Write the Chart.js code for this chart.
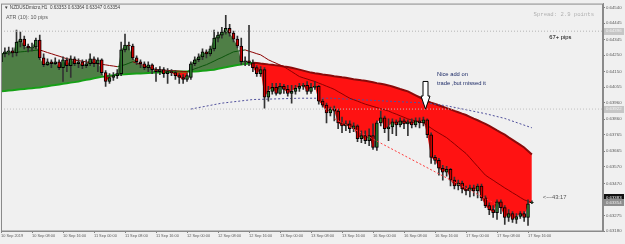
<!DOCTYPE html>
<html>
<head>
<meta charset="utf-8">
<script src="https://cdn.jsdelivr.net/npm/chart.js@4.4.1/dist/chart.umd.min.js"></script>
<style>
  html, body { margin: 0; padding: 0; background: #f0f0f0; }
</style>
</head>
<body>
<canvas id="chart" width="625" height="244"></canvas>
<script>
'use strict';
// Time axis: one label every 8 hourly bars
const tickLabels = ['10 Sep 2019', '10 Sep 08:00', '10 Sep 16:00', '11 Sep 00:00', '11 Sep 08:00', '11 Sep 16:00',
  '12 Sep 00:00', '12 Sep 08:00', '12 Sep 16:00', '13 Sep 00:00', '13 Sep 08:00', '13 Sep 16:00',
  '16 Sep 00:00', '16 Sep 08:00', '16 Sep 16:00', '17 Sep 00:00', '17 Sep 08:00', '17 Sep 16:00'];
const barsPerTick = 8;
const priceTicks = [0.64540, 0.64445, 0.64345, 0.64250, 0.64150, 0.64055, 0.63960, 0.63860,
  0.63765, 0.63665, 0.63570, 0.63470, 0.63375, 0.63275, 0.63180];

// NZDUSD H1 candles
const opens = [0.64210,0.64258,0.64270,0.64276,0.64264,0.64330,0.64348,0.64306,0.64294,0.64300,
  0.64342,0.64234,0.64192,0.64210,0.64198,0.64210,0.64174,0.64222,0.64186,0.64228,
  0.64198,0.64210,0.64186,0.64198,0.64228,0.64198,0.64222,0.64144,0.64090,0.64114,
  0.64126,0.64138,0.64282,0.64312,0.64306,0.64234,0.64210,0.64198,0.64174,0.64192,
  0.64162,0.64150,0.64162,0.64138,0.64150,0.64144,0.64126,0.64114,0.64102,0.64114,
  0.64198,0.64222,0.64240,0.64270,0.64258,0.64288,0.64354,0.64372,0.64390,0.64414,
  0.64384,0.64348,0.64306,0.64210,0.64216,0.64204,0.64174,0.64138,0.64162,0.63994,
  0.64030,0.64054,0.64018,0.64060,0.64042,0.64018,0.64030,0.64048,0.64060,0.64066,
  0.64030,0.64054,0.64060,0.63970,0.63946,0.63898,0.63922,0.63910,0.63838,0.63820,
  0.63832,0.63802,0.63820,0.63742,0.63760,0.63730,0.63760,0.63688,0.63838,0.63868,
  0.63802,0.63814,0.63844,0.63826,0.63850,0.63832,0.63844,0.63826,0.63850,0.63838,
  0.63856,0.63766,0.63628,0.63610,0.63562,0.63538,0.63556,0.63490,0.63454,0.63472,
  0.63436,0.63424,0.63442,0.63424,0.63454,0.63382,0.63334,0.63310,0.63292,0.63358,
  0.63322,0.63262,0.63286,0.63250,0.63268,0.63286,0.63262,0.63353];
const highs = [0.64282,0.64294,0.64300,0.64294,0.64402,0.64390,0.64366,0.64318,0.64324,0.64354,
  0.64372,0.64258,0.64228,0.64222,0.64234,0.64222,0.64240,0.64234,0.64246,0.64240,
  0.64228,0.64222,0.64222,0.64258,0.64240,0.64234,0.64228,0.64156,0.64138,0.64144,
  0.64162,0.64330,0.64378,0.64330,0.64318,0.64246,0.64222,0.64210,0.64210,0.64198,
  0.64174,0.64180,0.64174,0.64168,0.64162,0.64156,0.64138,0.64132,0.64138,0.64210,
  0.64240,0.64258,0.64288,0.64282,0.64306,0.64402,0.64390,0.64420,0.64492,0.64438,
  0.64396,0.64366,0.64354,0.64240,0.64432,0.64222,0.64186,0.64180,0.64174,0.64060,
  0.64078,0.64078,0.64078,0.64072,0.64066,0.64066,0.64066,0.64078,0.64078,0.64090,
  0.64078,0.64090,0.64066,0.63982,0.63958,0.63934,0.63940,0.63922,0.63874,0.63850,
  0.63850,0.63838,0.63826,0.63790,0.63790,0.63802,0.63832,0.63850,0.63910,0.63880,
  0.63862,0.63862,0.63856,0.63868,0.63862,0.63856,0.63862,0.63868,0.63868,0.63874,
  0.63862,0.63778,0.63640,0.63622,0.63580,0.63574,0.63562,0.63508,0.63490,0.63484,
  0.63454,0.63460,0.63460,0.63466,0.63466,0.63394,0.63352,0.63334,0.63370,0.63370,
  0.63334,0.63310,0.63298,0.63286,0.63298,0.63298,0.63370,0.63364];
const lows = [0.64180,0.64240,0.64252,0.64240,0.64246,0.64300,0.64288,0.64270,0.64276,0.64288,
  0.64222,0.64180,0.64186,0.64174,0.64192,0.64162,0.64090,0.64150,0.64114,0.64186,
  0.64174,0.64168,0.64174,0.64186,0.64180,0.64150,0.64132,0.64060,0.64078,0.64096,
  0.64108,0.64126,0.64270,0.64282,0.64222,0.64192,0.64174,0.64162,0.64150,0.64138,
  0.64090,0.64132,0.64114,0.64078,0.64126,0.64102,0.64078,0.64078,0.64090,0.64102,
  0.64186,0.64210,0.64222,0.64234,0.64246,0.64276,0.64330,0.64354,0.64378,0.64366,
  0.64330,0.64294,0.64192,0.64186,0.64186,0.64150,0.64120,0.64120,0.63928,0.63970,
  0.64012,0.64006,0.64012,0.64018,0.64000,0.63958,0.64012,0.64030,0.64042,0.64012,
  0.64018,0.64042,0.63952,0.63934,0.63838,0.63880,0.63850,0.63802,0.63778,0.63790,
  0.63778,0.63784,0.63724,0.63718,0.63712,0.63700,0.63676,0.63670,0.63820,0.63778,
  0.63730,0.63772,0.63760,0.63814,0.63802,0.63760,0.63808,0.63814,0.63808,0.63820,
  0.63748,0.63592,0.63586,0.63520,0.63490,0.63514,0.63454,0.63436,0.63430,0.63412,
  0.63400,0.63388,0.63394,0.63382,0.63364,0.63322,0.63280,0.63262,0.63250,0.63286,
  0.63220,0.63238,0.63232,0.63226,0.63256,0.63238,0.63214,0.63347];
const closes = [0.64258,0.64270,0.64276,0.64264,0.64330,0.64348,0.64306,0.64294,0.64300,0.64342,
  0.64234,0.64192,0.64210,0.64198,0.64210,0.64174,0.64222,0.64186,0.64228,0.64198,
  0.64210,0.64186,0.64198,0.64228,0.64198,0.64222,0.64144,0.64090,0.64114,0.64126,
  0.64138,0.64282,0.64312,0.64306,0.64234,0.64210,0.64198,0.64174,0.64192,0.64162,
  0.64150,0.64162,0.64138,0.64150,0.64144,0.64126,0.64114,0.64102,0.64126,0.64198,
  0.64222,0.64240,0.64270,0.64258,0.64288,0.64354,0.64372,0.64390,0.64414,0.64384,
  0.64348,0.64306,0.64210,0.64216,0.64204,0.64174,0.64138,0.64162,0.63994,0.64030,
  0.64054,0.64018,0.64060,0.64042,0.64018,0.64030,0.64048,0.64060,0.64066,0.64030,
  0.64054,0.64060,0.63970,0.63946,0.63898,0.63922,0.63910,0.63838,0.63820,0.63832,
  0.63802,0.63820,0.63742,0.63760,0.63730,0.63760,0.63688,0.63838,0.63868,0.63802,
  0.63814,0.63844,0.63826,0.63850,0.63832,0.63844,0.63826,0.63850,0.63838,0.63856,
  0.63766,0.63628,0.63610,0.63562,0.63538,0.63556,0.63490,0.63454,0.63472,0.63436,
  0.63424,0.63442,0.63424,0.63454,0.63382,0.63334,0.63310,0.63292,0.63358,0.63322,
  0.63262,0.63286,0.63250,0.63268,0.63286,0.63262,0.63346,0.63354];

// Slow MA (cloud edge) and medium MA
const slowMa = [0.64030,0.64032,0.64035,0.64037,0.64040,0.64042,0.64044,0.64047,0.64049,0.64052,
  0.64054,0.64058,0.64061,0.64065,0.64068,0.64072,0.64076,0.64079,0.64083,0.64086,
  0.64090,0.64095,0.64100,0.64104,0.64109,0.64114,0.64118,0.64121,0.64125,0.64128,
  0.64132,0.64133,0.64134,0.64136,0.64137,0.64138,0.64139,0.64140,0.64142,0.64143,
  0.64144,0.64145,0.64146,0.64148,0.64149,0.64150,0.64150,0.64150,0.64150,0.64150,
  0.64150,0.64152,0.64155,0.64157,0.64160,0.64162,0.64167,0.64172,0.64176,0.64181,
  0.64186,0.64190,0.64193,0.64197,0.64200,0.64204,0.64202,0.64199,0.64197,0.64194,
  0.64192,0.64188,0.64185,0.64181,0.64178,0.64174,0.64168,0.64162,0.64156,0.64150,
  0.64144,0.64140,0.64137,0.64133,0.64130,0.64126,0.64122,0.64119,0.64115,0.64112,
  0.64108,0.64104,0.64101,0.64097,0.64094,0.64090,0.64085,0.64080,0.64076,0.64071,
  0.64066,0.64059,0.64052,0.64044,0.64037,0.64030,0.64018,0.64006,0.63994,0.63982,
  0.63970,0.63961,0.63953,0.63945,0.63936,0.63928,0.63920,0.63911,0.63903,0.63894,
  0.63886,0.63875,0.63864,0.63854,0.63843,0.63832,0.63819,0.63806,0.63792,0.63779,
  0.63766,0.63750,0.63735,0.63719,0.63704,0.63688,0.63667,0.63646];
const fastMa = [0.64258,0.64260,0.64263,0.64265,0.64268,0.64270,0.64272,0.64275,0.64277,0.64280,
  0.64282,0.64274,0.64266,0.64259,0.64251,0.64244,0.64236,0.64228,0.64224,0.64220,
  0.64217,0.64213,0.64209,0.64205,0.64202,0.64198,0.64194,0.64191,0.64187,0.64184,
  0.64180,0.64186,0.64192,0.64201,0.64210,0.64202,0.64194,0.64186,0.64178,0.64170,
  0.64162,0.64161,0.64159,0.64157,0.64156,0.64155,0.64153,0.64151,0.64150,0.64158,
  0.64167,0.64175,0.64184,0.64192,0.64203,0.64214,0.64226,0.64236,0.64248,0.64259,
  0.64270,0.64274,0.64278,0.64282,0.64274,0.64267,0.64259,0.64252,0.64237,0.64222,
  0.64211,0.64201,0.64190,0.64180,0.64165,0.64150,0.64135,0.64120,0.64112,0.64105,
  0.64097,0.64090,0.64080,0.64071,0.64061,0.64052,0.64042,0.64028,0.64015,0.64001,
  0.63988,0.63979,0.63970,0.63961,0.63952,0.63945,0.63938,0.63931,0.63924,0.63917,
  0.63910,0.63900,0.63891,0.63881,0.63872,0.63862,0.63856,0.63850,0.63844,0.63838,
  0.63822,0.63806,0.63790,0.63776,0.63762,0.63748,0.63729,0.63710,0.63690,0.63671,
  0.63652,0.63626,0.63599,0.63573,0.63546,0.63520,0.63504,0.63489,0.63473,0.63458,
  0.63442,0.63428,0.63413,0.63399,0.63384,0.63370,0.63361,0.63352];
// Long MA (blue dots), read at a few bars
const longMaBars = [49, 57, 65, 77, 85, 95, 105, 110, 115, 125, 130, 137];
const longMaValues = [0.63922, 0.63958, 0.63980, 0.63988, 0.63988, 0.63976, 0.63964, 0.63958, 0.63942, 0.63894, 0.63865, 0.63808];
// Drawn objects
const hLinePrices = [0.64396, 0.63922];
const trendBars = [86.1, 127.9];
const trendPrices = [0.63863, 0.63342];
const lastBar = 155.35;

const notes = [
  {text: '67+ pips', bar: 141.5, price: 0.64360, color: '#000000'},
  {text: 'Nice add on', bar: 112.5, price: 0.64132, color: '#1c2a66'},
  {text: 'trade ,but missed it', bar: 112.5, price: 0.64078, color: '#1c2a66'},
  {text: '<---43:17', bar: 139.8, price: 0.63382, color: '#555555'}
];
const arrow = {bar: 109.4, from: 0.64090, to: 0.63922};
const axisBoxes = [
  {price: 0.64396, label: '0.64396', bg: '#c6c6c6', fg: '#f4f4f4'},
  {price: 0.63922, label: '0.63922', bg: '#c6c6c6', fg: '#f4f4f4'},
  {price: 0.63383, label: '0.63383', bg: '#101010', fg: '#ffffff'},
  {price: 0.63354, label: '0.63354', bg: '#8e8e8e', fg: '#eeeeee'}
];

const pts = arr => arr.map((v, i) => ({x: i, y: v}));
const up = ctx => closes[ctx.dataIndex] >= opens[ctx.dataIndex];

// Background, frame, texts, arrow and price boxes
const decor = {
  id: 'decor',
  beforeDraw(chart) {
    const c = chart.ctx;
    c.save();
    c.fillStyle = '#f0f0f0';
    c.fillRect(0, 0, chart.width, chart.height);
    c.restore();
  },
  afterDraw(chart) {
    const c = chart.ctx, a = chart.chartArea, xs = chart.scales.x, ys = chart.scales.y;
    c.save();
    c.strokeStyle = '#8a8a8a';
    c.lineWidth = 1;
    c.strokeRect(a.left + 0.5, a.top + 0.5, a.right - a.left - 1, a.bottom - a.top - 0.5);

    c.textBaseline = 'middle';
    c.fillStyle = '#3c3c3c';
    c.font = '4.6px "Liberation Sans"';
    c.fillText('\u25BC NZDUSDmicro,H1  0.63353 0.63364 0.63347 0.63354', a.left + 3, a.top + 4);
    c.fillStyle = '#5a5a5a';
    c.font = '5.4px "Liberation Sans"';
    c.fillText('ATR (10): 10 pips', a.left + 5, a.top + 14);
    c.fillStyle = '#b0b0b0';
    c.font = '5.6px "Liberation Mono"';
    c.textAlign = 'right';
    c.fillText('Spread: 2.9 points', a.right - 9, a.top + 11);
    c.textAlign = 'left';

    c.font = '5.8px "Liberation Sans"';
    notes.forEach(n => {
      c.fillStyle = n.color;
      c.fillText(n.text, xs.getPixelForValue(n.bar), ys.getPixelForValue(n.price));
    });

    const ax = Math.round(xs.getPixelForValue(arrow.bar)) + 0.5;
    const y0 = ys.getPixelForValue(arrow.from), y1 = ys.getPixelForValue(arrow.to);
    c.beginPath();
    c.moveTo(ax - 2.5, y0);
    c.lineTo(ax + 2.5, y0);
    c.lineTo(ax + 2.5, y1 - 13);
    c.lineTo(ax + 4.5, y1 - 13);
    c.lineTo(ax, y1);
    c.lineTo(ax - 4.5, y1 - 13);
    c.lineTo(ax - 2.5, y1 - 13);
    c.closePath();
    c.fillStyle = '#ffffff';
    c.fill();
    c.strokeStyle = '#000000';
    c.stroke();

    c.font = '4.3px "Liberation Sans"';
    axisBoxes.forEach(b => {
      const y = ys.getPixelForValue(b.price);
      c.fillStyle = b.bg;
      c.fillRect(a.right + 1, Math.round(y - 3.5), chart.width - a.right - 2, 7);
      c.fillStyle = b.fg;
      c.fillText(b.label, a.right + 3, y);
    });
    c.restore();
  }
};

const ctx = document.getElementById('chart').getContext('2d');
new Chart(ctx, {
  data: {
    datasets: [
      {type: 'line', label: 'close', data: pts(closes), order: 6, borderWidth: 0, pointRadius: 0,
        fill: {target: 1, above: '#4f7f46', below: '#ff1212'}},
      {type: 'line', label: 'slow', data: pts(slowMa), order: 5, borderWidth: 2, pointRadius: 0,
        segment: {borderColor: s => s.p1.parsed.y >= s.p0.parsed.y ? '#16a016' : '#8a0a0a'}},
      {type: 'line', label: 'fast', data: pts(fastMa), order: 3, borderWidth: 1, pointRadius: 0,
        segment: {borderColor: s => s.p1.parsed.y >= s.p0.parsed.y ? '#0c560c' : '#8b0000'}},
      {type: 'line', label: 'long', data: longMaBars.map((b, i) => ({x: b, y: longMaValues[i]})), order: 4,
        borderColor: '#50509c', borderWidth: 1, borderDash: [2, 2], pointRadius: 0},
      {type: 'line', label: 'h1', data: [{x: 0, y: hLinePrices[0]}, {x: lastBar, y: hLinePrices[0]}], order: 0,
        borderColor: '#b4b4b4', borderWidth: 1, borderDash: [1, 2], pointRadius: 0},
      {type: 'line', label: 'h2', data: [{x: 0, y: hLinePrices[1]}, {x: lastBar, y: hLinePrices[1]}], order: 0,
        borderColor: '#c0c0c0', borderWidth: 1, borderDash: [1, 2], pointRadius: 0},
      {type: 'line', label: 'trend', data: trendBars.map((b, i) => ({x: b, y: trendPrices[i]})), order: 0,
        borderColor: '#ff3c3c', borderWidth: 1, borderDash: [2, 2], pointRadius: 0},
      {type: 'bar', label: 'wicks', data: lows.map((l, i) => ({x: i, y: [l, highs[i]]})), order: 2,
        barThickness: 1, grouped: false, backgroundColor: '#333333', borderWidth: 0},
      {type: 'bar', label: 'bodies', data: opens.map((o, i) => ({x: i, y: [o, closes[i]]})), order: 1,
        barThickness: 3, grouped: false, borderSkipped: false, borderWidth: 1, borderColor: '#000000',
        backgroundColor: c => up(c) ? '#2e7a2e' : '#cc0000'}
    ]
  },
  options: {
    responsive: false,
    devicePixelRatio: 1,
    animation: false,
    events: [],
    layout: {padding: {left: 1, top: 1, right: 0, bottom: 0}},
    plugins: {legend: {display: false}, tooltip: {enabled: false}},
    scales: {
      x: {
        type: 'linear', min: 0, max: lastBar, offset: false,
        grid: {offset: false, drawOnChartArea: false, tickLength: 2, color: '#808080'},
        border: {color: '#8a8a8a'},
        afterBuildTicks: s => { s.ticks = tickLabels.map((t, k) => ({value: k * barsPerTick})); },
        afterFit: s => { s.height = 13; },
        ticks: {autoSkip: false, maxRotation: 0, align: 'start', padding: 1, color: '#5a5a5a',
          font: {size: 3.9, family: 'Liberation Sans'},
          callback: v => tickLabels[Math.round(v / barsPerTick)] || ''}
      },
      y: {
        type: 'linear', position: 'right', min: 0.63180, max: 0.64564,
        grid: {drawOnChartArea: false, tickLength: 2, color: '#808080'},
        border: {color: '#8a8a8a'},
        afterBuildTicks: s => { s.ticks = priceTicks.map(p => ({value: p})); },
        afterFit: s => { s.width = 22; },
        ticks: {padding: 1, color: '#5a5a5a', font: {size: 4.3, family: 'Liberation Sans'},
          callback: v => v.toFixed(5)}
      }
    }
  },
  plugins: [decor]
});
</script>
</body>
</html>
